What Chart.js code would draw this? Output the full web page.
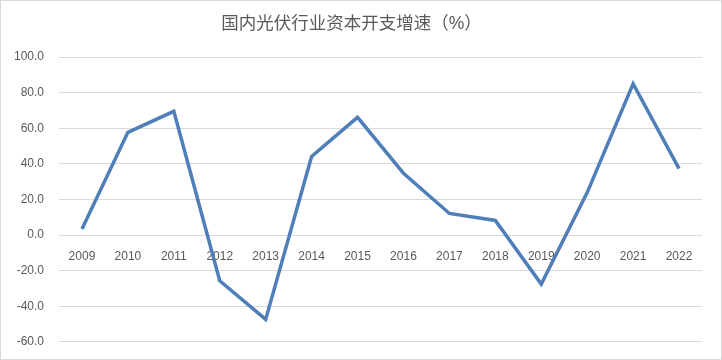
<!DOCTYPE html>
<html>
<head>
<meta charset="utf-8">
<script src="https://cdn.jsdelivr.net/npm/chart.js@4/dist/chart.umd.min.js"></script>
<style>
  body { margin: 0; background: #fff; }
  #wrap { width: 720px; height: 358px; border: 1px solid #d9d9d9; overflow: hidden; }
</style>
</head>
<body>
<div id="wrap"><canvas id="grafica" width="720" height="363"></canvas></div>
<script>
// datos
const years = ["2009","2010","2011","2012","2013","2014","2015","2016","2017","2018","2019","2020","2021","2022"];
const growth = [3.4, 57.7, 69.5, -25.7, -47.4, 44.1, 66.1, 34.7, 12.1, 8.2, -27.6, 23.8, 85.0, 37.3];
const yMin = -60;
const yMax = 100;
const yStep = 20;

const title = "国内光伏行业资本开支增速（%）";
const textColor = "#595959";
const font = "'Liberation Sans', 'Noto Sans CJK SC', sans-serif";

const ctx = document.querySelector("#grafica").getContext("2d");

var mychart = new Chart(ctx, {
    type: "line",
    data: {
        labels: years,
        datasets: [
            {
                label: title,
                data: growth,
                borderColor: "#4f7fb9",
                borderWidth: 3.5,
                pointRadius: 0,
                tension: 0,
                fill: false
            }
        ]
    },
    options: {
        responsive: false,
        animation: false,
        layout: {
            padding: { top: 4, right: 19, bottom: 19, left: 0 }
        },
        plugins: {
            legend: { display: false },
            tooltip: { enabled: false },
            title: {
                display: true,
                text: title,
                color: textColor,
                font: { family: font, size: 17.5, weight: "normal" },
                padding: { top: 9, bottom: 22 }
            }
        },
        scales: {
            x: {
                position: { y: 0 },
                offset: true,
                grid: { display: false },
                border: { display: false },
                ticks: {
                    color: textColor,
                    font: { family: font, size: 12 },
                    padding: 6,
                    maxRotation: 0
                }
            },
            y: {
                min: yMin,
                max: yMax,
                // ancho fijo para que el area empiece donde en la imagen
                afterFit: axis => { axis.width = 58; },
                grid: { color: "#d9d9d9", lineWidth: 1, drawTicks: false },
                border: { display: false },
                ticks: {
                    stepSize: yStep,
                    color: textColor,
                    font: { family: font, size: 12 },
                    padding: 15,
                    callback: v => v.toFixed(1)
                }
            }
        }
    }
});
</script>
</body>
</html>
